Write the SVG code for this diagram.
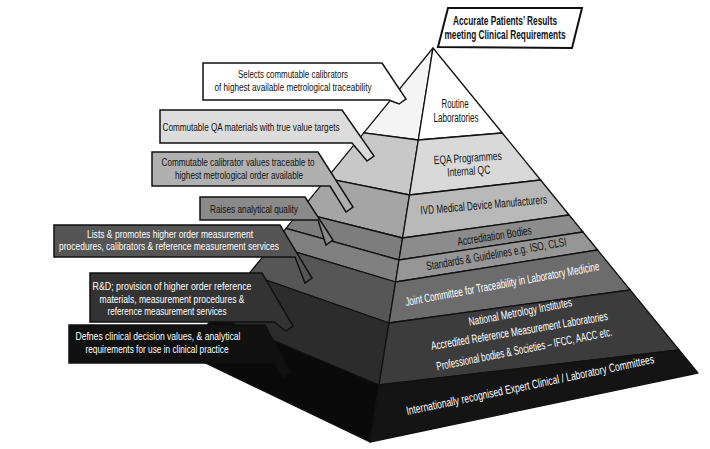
<svg xmlns="http://www.w3.org/2000/svg" width="710" height="449" viewBox="0 0 710 449">
<style>
.f{stroke:#111;stroke-width:1.3;stroke-linejoin:round}
.t{font-family:"Liberation Sans Narrow","Liberation Sans",Arial,sans-serif;font-size:12px;text-anchor:middle}
.s{font-size:11.5px}
.w{fill:#fff}
.k{fill:#111}
.c{stroke:#111;stroke-width:1.5;stroke-linejoin:miter}
.b{font-weight:bold;font-size:12px}
</style>
<rect width="710" height="449" fill="#fff"/>
<g id="pyramid">
<g id="left-face">
<polygon class="f" fill="#f4f4f4" points="433,48 363.8,132.9 418.3,140"/>
<polygon class="f" fill="#c8c8c8" points="363.8,132.9 326.7,178.4 409.5,195 418.3,140"/>
<polygon class="f" fill="#a5a5a5" points="326.7,178.4 299.2,212.1 402.6,238 409.5,195"/>
<polygon class="f" fill="#7d7d7d" points="299.2,212.1 286,228.4 399,260 402.6,238"/>
<polygon class="f" fill="#808080" points="286,228.4 272.4,245 395.6,282 399,260"/>
<polygon class="f" fill="#565656" points="272.4,245 248.8,274 389,323 395.6,282"/>
<polygon class="f" fill="#2c2c2c" points="248.8,274 214.5,316 379,385 389,323"/>
<polygon class="f" fill="#0a0a0a" points="214.5,316 184.5,353 370,442 379,385"/>
</g>
<g id="front-face">
<polygon class="f" fill="#ffffff" points="433,48 418.3,140 502.3,133"/>
<polygon class="f" fill="#d9d9d9" points="418.3,140 502.3,133 540.6,180 409.5,195"/>
<polygon class="f" fill="#b9b9b9" points="409.5,195 540.6,180 569.1,215 402.6,238"/>
<polygon class="f" fill="#8c8c8c" points="402.6,238 569.1,215 583,232 399,260"/>
<polygon class="f" fill="#969696" points="399,260 583,232 597.6,250 395.6,282"/>
<polygon class="f" fill="#6c6c6c" points="395.6,282 597.6,250 630.2,290 389,323"/>
<polygon class="f" fill="#3c3c3c" points="389,323 630.2,290 679.1,350 379,385"/>
<polygon class="f" fill="#141414" points="379,385 679.1,350 697.9,373 370,442"/>
</g>
</g>
<g id="level-routine">
<text class="t k" x="455" y="108" textLength="27" lengthAdjust="spacingAndGlyphs">Routine</text>
<text class="t k" x="456" y="122" textLength="45" lengthAdjust="spacingAndGlyphs">Laboratories</text>
</g>
<g id="level-eqa">
<text class="t k" transform="translate(468,162) rotate(-4)" textLength="68" lengthAdjust="spacingAndGlyphs">EQA Programmes</text>
<text class="t k" transform="translate(469,175) rotate(-4)" textLength="43" lengthAdjust="spacingAndGlyphs">Internal QC</text>
</g>
<g id="level-ivd">
<text class="t k" transform="translate(484,209) rotate(-5)" textLength="127" lengthAdjust="spacingAndGlyphs">IVD Medical Device Manufacturers</text>
</g>
<g id="level-accreditation">
<text class="t k" transform="translate(495,240) rotate(-9)" textLength="75" lengthAdjust="spacingAndGlyphs">Accreditation Bodies</text>
</g>
<g id="level-standards">
<text class="t k" transform="translate(497,258) rotate(-10)" textLength="142" lengthAdjust="spacingAndGlyphs">Standards &amp; Guidelines e.g. ISO, CLSI</text>
</g>
<g id="level-jctlm">
<text class="t w" transform="translate(503,288) rotate(-10.5)" textLength="197" lengthAdjust="spacingAndGlyphs">Joint Committee for Traceability in Laboratory Medicine</text>
</g>
<g id="level-national">
<text class="t w" transform="translate(521,316) rotate(-11)" textLength="105" lengthAdjust="spacingAndGlyphs">National Metrology Institutes</text>
<text class="t w" transform="translate(520,335) rotate(-9.7)" textLength="179" lengthAdjust="spacingAndGlyphs">Accredited Reference Measurement Laboratories</text>
<text class="t w" transform="translate(525,353) rotate(-11.3)" textLength="179" lengthAdjust="spacingAndGlyphs">Professional bodies &amp; Societies – IFCC, AACC etc.</text>
</g>
<g id="level-international">
<text class="t w" transform="translate(531,389) rotate(-11.9)" textLength="253" lengthAdjust="spacingAndGlyphs">Internationally recognised Expert Clinical / Laboratory Committees</text>
</g>
<g id="callout-7">
<path class="c" fill="#111" d="M69,325 H265 L290,372 L283,377 L275,363 H69 Z"/>
<text class="t s w" x="158" y="340" textLength="165" lengthAdjust="spacingAndGlyphs">Defnes clinical decision values, &amp; analytical</text>
<text class="t s w" x="157" y="353" textLength="143" lengthAdjust="spacingAndGlyphs">requirements for use in clinical practice</text>
</g>
<g id="callout-6">
<path class="c" fill="#333" d="M90,273 H262 L293,326 L286,331 L274,322 H90 Z"/>
<text class="t s w" x="172" y="290" textLength="159" lengthAdjust="spacingAndGlyphs">R&amp;D; provision of higher order reference</text>
<text class="t s w" x="172" y="303" textLength="145" lengthAdjust="spacingAndGlyphs">materials, measurement procedures &amp;</text>
<text class="t s w" x="167" y="315" textLength="119" lengthAdjust="spacingAndGlyphs">reference measurement services</text>
</g>
<g id="callout-5">
<path class="c" fill="#555" d="M54,225 H280 L312,278 L305,283 L295,257 H54 Z"/>
<text class="t s w" x="170" y="238" textLength="166" lengthAdjust="spacingAndGlyphs">Lists &amp; promotes higher order measurement</text>
<text class="t s w" x="169" y="250" textLength="220" lengthAdjust="spacingAndGlyphs">procedures, calibrators &amp; reference measurement services</text>
</g>
<g id="callout-4">
<path class="c" fill="#8a8a8a" d="M200,197 H305 L333,240 L326,245 L318,220 H200 Z"/>
<text class="t s k" x="254" y="213" textLength="88" lengthAdjust="spacingAndGlyphs">Raises analytical quality</text>
</g>
<g id="callout-3">
<path class="c" fill="#b0b0b0" d="M152,152 H318 L353,207 L346,212 L330,186 H152 Z"/>
<text class="t s k" x="238" y="166" textLength="153" lengthAdjust="spacingAndGlyphs">Commutable calibrator values traceable to</text>
<text class="t s k" x="239" y="179" textLength="128" lengthAdjust="spacingAndGlyphs">highest metrological order available</text>
</g>
<g id="callout-2">
<path class="c" fill="#dcdcdc" d="M160,110 H342 L374,156 L367,161 L352,143 H160 Z"/>
<text class="t s k" x="251" y="131" textLength="177" lengthAdjust="spacingAndGlyphs">Commutable QA materials with true value targets</text>
</g>
<g id="callout-1">
<path class="c" fill="#fff" d="M203,63 H382 L406,99 L399,104 L389,100 H203 Z"/>
<text class="t s k" x="293" y="78" textLength="110" lengthAdjust="spacingAndGlyphs">Selects commutable calibrators</text>
<text class="t s k" x="293" y="91" textLength="157" lengthAdjust="spacingAndGlyphs">of highest available metrological traceability</text>
</g>
<g id="top-goal">
<polygon fill="#fff" stroke="#111" stroke-width="2" points="448,8 582,8 572,48 438,47"/>
<text class="t b k" x="505" y="25" textLength="104" lengthAdjust="spacingAndGlyphs">Accurate Patients’ Results</text>
<text class="t b k" x="505" y="39" textLength="121" lengthAdjust="spacingAndGlyphs">meeting Clinical Requirements</text>
</g>
</svg>
